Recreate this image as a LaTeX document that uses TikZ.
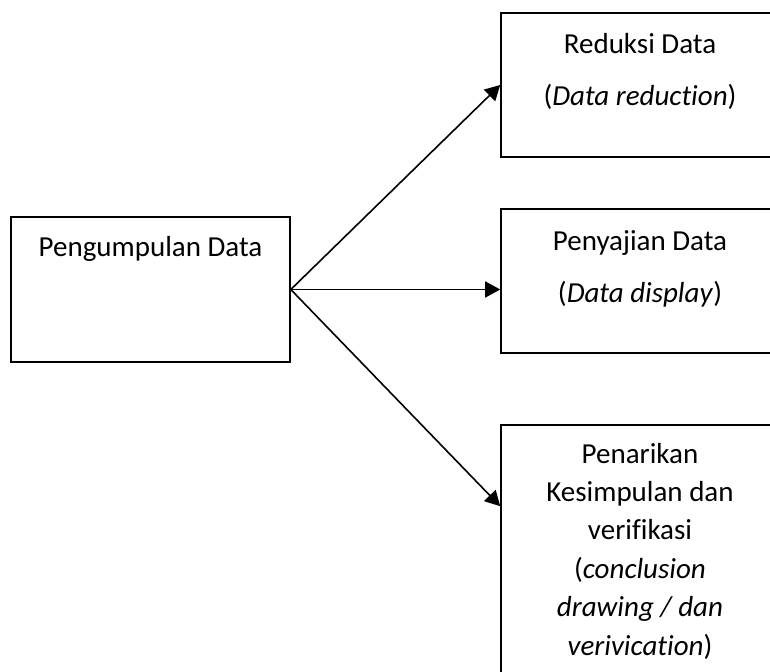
\documentclass[tikz,border=0pt]{standalone}
\usepackage{fontspec}
\setmainfont{Carlito}[Ligatures={NoCommon,NoContextual}]
\usetikzlibrary{arrows.meta,positioning,calc}

\tikzset{
  box/.style={draw, line width=0.8pt, rectangle, minimum width=139pt, inner sep=0pt},
  txt/.style={align=center, inner sep=0pt, font=\fontsize{14.5}{19.2}\selectfont},
  arr/.style={line width=0.8pt, -{Triangle[length=7.5pt,width=8pt]}}
}

\begin{document}
\begin{tikzpicture}[x=0.5pt, y=-0.5pt]
  \useasboundingbox (0,0) rectangle (770,672);
  \clip (0,0) rectangle (770,672);

  % boxes
  \node[box, minimum width=139.5pt, minimum height=72.5pt] (pd) at (150.5,289.5) {};
  \node[box, minimum height=72pt] (rd) at (640,85) {};
  \node[box, minimum height=72pt] (pj) at (640,281) {};
  \node[box, minimum height=137.5pt] (pk) at (640,562.5) {};

  % texts
  \node[txt, below=10pt of pd.north] (pdt) {Pengumpulan Data};
  \node[txt, below=10.5pt of rd.north] (rdt) {Reduksi Data\\[6.8pt](\textit{Data reduction})};
  \node[txt, below=11pt of pj.north] (pjt) {Penyajian Data\\[6.8pt](\textit{Data display})};
  \node[txt, below=9.2pt of pk.north] (pkt) {Penarikan\\Kesimpulan dan\\verifikasi\\(\textit{conclusion}\\\textit{drawing / dan}\\\textit{verivication})};

  % arrows
  \draw[arr] (pd.east) -- (rd.west);
  \draw[arr] (pd.east) -- (pd.east -| pj.west);
  \draw[arr] (pd.east) -- ([yshift=-41pt]pk.north west);
\end{tikzpicture}
\end{document}
